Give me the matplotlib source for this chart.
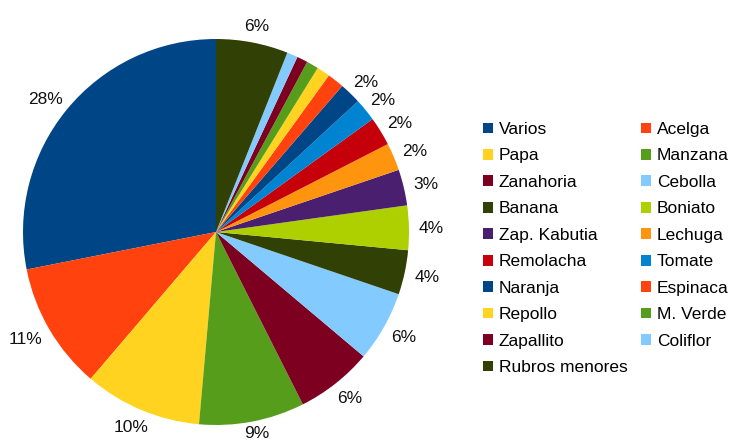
import matplotlib
matplotlib.use('Agg')
import numpy as np
import matplotlib.pyplot as plt
from matplotlib.patches import Patch

plt.rcParams['font.family'] = ['Liberation Sans', 'DejaVu Sans']

# Rubros (orden del gráfico, antihorario desde arriba)
rubros = ['Varios', 'Acelga', 'Papa', 'Manzana', 'Zanahoria', 'Cebolla',
          'Banana', 'Boniato', 'Zap. Kabutia', 'Lechuga', 'Remolacha',
          'Tomate', 'Naranja', 'Espinaca', 'Repollo', 'M. Verde',
          'Zapallito', 'Coliflor', 'Rubros menores']
porcentajes = [28.0, 10.6, 9.8, 8.8, 6.4, 5.9,
               3.7, 3.7, 3.0, 2.3, 2.4,
               1.9, 1.8, 1.4, 1.1, 1.0,
               0.9, 0.9, 6.0]

paleta = ['#004586', '#ff420e', '#ffd320', '#579d1c', '#7e0021', '#83caff',
          '#314004', '#aecf00', '#4b1f6f', '#ff950e', '#c5000b', '#0084d1']
colores = [paleta[i % len(paleta)] for i in range(len(rubros))]

FS = 12.5


def etiqueta(p):
    return '%d%%' % round(p) if p >= 1.5 else ''


fig = plt.figure(figsize=(7.35, 4.44), dpi=100)
cx, cy, r = 216, 232, 193
ax = fig.add_axes([(cx - r) / 735, (444 - cy - r) / 444, 2 * r / 735, 2 * r / 444])

wedges = ax.pie(porcentajes, colors=colores, startangle=90, counterclock=True,
                wedgeprops={'linewidth': 0})[0]
for w in wedges:
    w.set_clip_on(False)

# etiquetas de porcentaje fuera de la torta, con el borde del texto junto al círculo
px = 1.0 / r  # un píxel en unidades de datos
gap = 10
total = sum(porcentajes)
for w, p in zip(wedges, porcentajes):
    txt = etiqueta(p / total * 100)
    if not txt:
        continue
    mid = np.deg2rad((w.theta1 + w.theta2) / 2)
    c, s = np.cos(mid), np.sin(mid)
    half_w = (len(txt) - 1) * 4.85 + 7.7
    half_h = 7.5
    x = (r + gap) * c + half_w * c
    y = (r + gap) * s + half_h * s - 1.5
    y = max(y, -(444 - cy) + 11)  # que no se salga por abajo
    ax.text(x * px, y * px, txt, ha='center', va='center',
            fontsize=FS, color='#111111')

ax.set_xlim(-1, 1)
ax.set_ylim(-1, 1)
ax.set_aspect('equal')
ax.axis('off')

# leyenda en dos columnas, orden por filas
handles = [Patch(facecolor=c, edgecolor='none') for c in colores]
orden = list(range(0, len(rubros), 2)) + list(range(1, len(rubros), 2))
fig.legend([handles[i] for i in orden], [rubros[i] for i in orden],
           ncol=2, loc='upper left', bbox_to_anchor=(483 / 735, 1 - 122 / 444),
           frameon=False, fontsize=FS, handlelength=0.57, handleheight=0.57,
           handletextpad=0.35, labelspacing=0.66, columnspacing=0.75,
           borderpad=0, borderaxespad=0)

fig.savefig('out.png', dpi=100)
